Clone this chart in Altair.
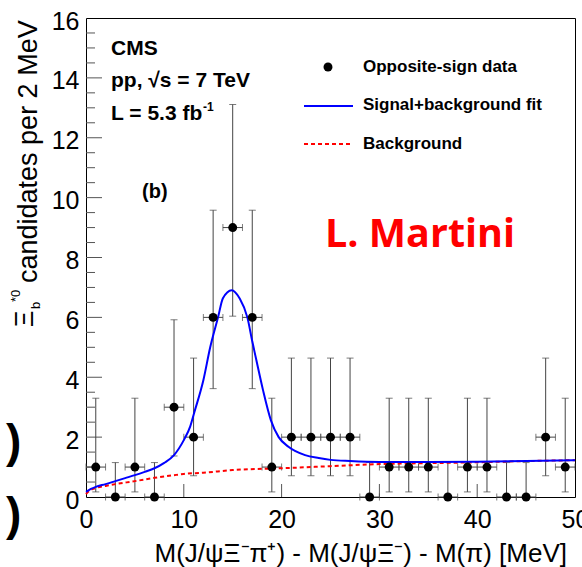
import altair as alt
import pandas as pd

# ---------------- data ----------------
bin_center = [1, 3, 5, 7, 9, 11, 13, 15, 17, 19, 21, 23, 25, 27, 29,
              31, 33, 35, 37, 39, 41, 43, 45, 47, 49]
counts = [1, 0, 1, 0, 3, 2, 6, 9, 6, 1, 2, 2, 2, 2, 0,
          1, 1, 1, 0, 1, 1, 0, 0, 2, 1]
err_low = [0.83, 0, 0.83, 0, 1.63, 1.29, 2.38, 2.96, 2.38, 0.83, 1.29, 1.29, 1.29, 1.29, 0,
           0.83, 0.83, 0.83, 0, 0.83, 0.83, 0, 0, 1.29, 0.83]
err_high = [2.30, 1.15, 2.30, 1.15, 2.92, 2.64, 3.58, 4.11, 3.58, 2.30, 2.64, 2.64, 2.64, 2.64, 1.15,
            2.30, 2.30, 2.30, 1.15, 2.30, 2.30, 1.15, 1.15, 2.64, 2.30]
half_bin = 1.0

fit_x = [0, 0.5, 1, 2, 3, 4, 5, 6, 7, 8, 9, 10, 10.65, 11.05, 12.0, 12.7, 13.5, 14.0,
         14.9, 15.7, 16.5, 17.0, 17.4, 18.1, 18.9, 19.7, 20.7, 22.4, 23.8, 25, 27, 30,
         35, 40, 45, 50]
fit_y = [0.17, 0.27, 0.34, 0.43, 0.53, 0.63, 0.73, 0.84, 0.96, 1.14, 1.4, 1.9, 2.35, 2.8,
         3.9, 5.0, 6.0, 6.64, 6.91, 6.64, 6.0, 5.2, 4.6, 3.57, 2.57, 2.0, 1.68, 1.40, 1.30,
         1.24, 1.20, 1.17, 1.17, 1.18, 1.20, 1.23]

bg_x = [0, 0.3, 1, 2, 3, 5, 7, 9, 10, 12, 15, 20, 25, 30, 35, 40, 45, 50]
bg_y = [0.10, 0.20, 0.30, 0.37, 0.43, 0.53, 0.64, 0.73, 0.77, 0.81, 0.90, 0.96, 1.03,
        1.10, 1.13, 1.16, 1.20, 1.23]

x_major = [10, 20, 30, 40]
y_major = [2, 4, 6, 8, 10, 12, 14]
y_minor = [v / 2 for v in range(1, 32) if v % 4 != 0]

FONT = "Liberation Sans"
W, H = 489, 479

# ---------------- tables ----------------
pts = pd.DataFrame({"x": bin_center, "n": counts, "elo": err_low, "ehi": err_high})
pts["lo"] = pts["n"] - pts["elo"]
pts["hi"] = pts["n"] + pts["ehi"]
pts["xl"] = pts["x"] - half_bin
pts["xr"] = pts["x"] + half_bin

fit = pd.DataFrame({"x": fit_x, "y": fit_y})
bg = pd.DataFrame({"x": bg_x, "y": bg_y})

xs = alt.Scale(domain=[0, 50], nice=False, zero=False)
ys = alt.Scale(domain=[0, 16], nice=False, zero=False)

base = alt.Chart(pts)

xaxis = alt.Axis(values=[0, 10, 20, 30, 40, 50], title=None, grid=False, ticks=False,
                 tickSize=0, domain=False, labelFont=FONT, labelFontSize=25,
                 labelColor="black", labelBaseline="alphabetic", labelPadding=30,
                 labelFlush=False, labelOverlap=False)
yaxis = alt.Axis(values=[0, 2, 4, 6, 8, 10, 12, 14, 16], title=None, grid=False, ticks=False,
                 tickSize=0, domain=False, labelFont=FONT, labelFontSize=25,
                 labelColor="black", labelBaseline="middle", labelPadding=7, labelOffset=3,
                 labelFlush=False, labelOverlap=False)

# frame ticks (inward, ROOT style)
ytick_major = alt.Chart(pd.DataFrame({"v": y_major})).mark_rule(color="#555", strokeWidth=1).encode(
    y=alt.Y("v:Q", scale=ys, axis=yaxis), x=alt.value(0), x2=alt.value(16))
ytick_minor = alt.Chart(pd.DataFrame({"v": y_minor})).mark_rule(color="#555", strokeWidth=1).encode(
    y=alt.Y("v:Q", scale=ys), x=alt.value(0), x2=alt.value(9))
xtick_major = alt.Chart(pd.DataFrame({"v": x_major})).mark_rule(color="#555", strokeWidth=1).encode(
    x=alt.X("v:Q", scale=xs, axis=xaxis), y=alt.value(H), y2=alt.value(H - 13))

ERR = "#444444"
vbar = base.mark_rule(color=ERR, strokeWidth=1).encode(
    x=alt.X("x:Q", scale=xs), y=alt.Y("lo:Q", scale=ys), y2="hi:Q")
cap_top = base.mark_tick(color=ERR, orient="horizontal", size=7, thickness=1).encode(
    x=alt.X("x:Q", scale=xs), y=alt.Y("hi:Q", scale=ys))
cap_bot = base.transform_filter("datum.n > 0").mark_tick(
    color=ERR, orient="horizontal", size=7, thickness=1).encode(
    x=alt.X("x:Q", scale=xs), y=alt.Y("lo:Q", scale=ys))
hbar = base.mark_rule(color=ERR, strokeWidth=1).encode(
    x=alt.X("xl:Q", scale=xs), x2="xr:Q", y=alt.Y("n:Q", scale=ys))
cap_l = base.mark_tick(color=ERR, orient="vertical", size=7, thickness=1).encode(
    x=alt.X("xl:Q", scale=xs), y=alt.Y("n:Q", scale=ys))
cap_r = base.mark_tick(color=ERR, orient="vertical", size=7, thickness=1).encode(
    x=alt.X("xr:Q", scale=xs), y=alt.Y("n:Q", scale=ys))

bg_line = alt.Chart(bg).mark_line(color="#ff0000", strokeWidth=2, strokeDash=[4, 3],
                                  interpolate="monotone").encode(
    x=alt.X("x:Q", scale=xs), y=alt.Y("y:Q", scale=ys))
fit_line = alt.Chart(fit).mark_line(color="#0000ff", strokeWidth=2,
                                    interpolate="monotone").encode(
    x=alt.X("x:Q", scale=xs), y=alt.Y("y:Q", scale=ys))

dots = base.mark_circle(color="black", opacity=1, size=80).encode(
    x=alt.X("x:Q", scale=xs), y=alt.Y("n:Q", scale=ys))


# ---------------- annotations (pixel positions inside the view) ----------------
def label(txt, px, py, size, weight="normal", color="black", align="left", angle=0, font=FONT):
    return alt.Chart(pd.DataFrame({"t": [txt]})).mark_text(
        font=font, fontSize=size, fontWeight=weight, color=color, align=align,
        baseline="alphabetic", angle=angle).encode(
        text="t:N", x=alt.value(px), y=alt.value(py))


texts = [
    label("CMS", 25, 37, 21, "bold"),
    label("pp,  \u221As = 7 TeV", 25, 69, 21, "bold"),
    label("L = 5.3 fb", 25, 102, 21, "bold"),
    label("-1", 117, 93, 12, "bold"),
    label("(b)", 56, 180, 20, "bold"),
    label("Opposite-sign data", 277, 54, 17, "bold"),
    label("Signal+background fit", 277, 92, 17, "bold"),
    label("Background", 277, 131, 17, "bold"),
    label("L. Martini", 239, 229, 39.5, "bold", color="#ff0000", font="Open Sans"),
    label(")", -80, 439, 46, "bold"),
    label(")", -80, 512, 46, "bold"),
    label("M(J/\u03c8\u039e\u207b\u03c0\u207a) - M(J/\u03c8\u039e\u207b) - M(\u03c0) [MeV]",
          481, 544, 26, align="right"),
    label("candidates per 2 MeV", -49, 265, 27, angle=270),
    label("\u039e", -53, 309, 25, angle=270),
    label("*0", -66, 284, 13, angle=270),
    label("b", -46, 291, 13, angle=270),
]

leg_dot = alt.Chart(pd.DataFrame({"k": [1]})).mark_circle(color="black", opacity=1, size=80).encode(
    x=alt.value(242), y=alt.value(49))
leg_fit = alt.Chart(pd.DataFrame({"k": [1]})).mark_rule(color="#0000ff", strokeWidth=2).encode(
    x=alt.value(218), x2=alt.value(267), y=alt.value(88))
leg_bg = alt.Chart(pd.DataFrame({"k": [1]})).mark_rule(color="#ff0000", strokeWidth=2,
                                                      strokeDash=[4, 3]).encode(
    x=alt.value(218), x2=alt.value(267), y=alt.value(126))

chart = alt.layer(
    ytick_major, ytick_minor, xtick_major,
    vbar, cap_top, cap_bot, hbar, cap_l, cap_r,
    bg_line, fit_line, dots,
    leg_dot, leg_fit, leg_bg,
    *texts,
).properties(
    width=W, height=H,
    autosize=alt.AutoSizeParams(type="none"),
    padding={"left": 86, "top": 18, "right": 7, "bottom": 70},
    background="white",
).configure_view(stroke="black", strokeWidth=1)

chart.save("out.html", embed_options={"renderer": "svg", "actions": False})
